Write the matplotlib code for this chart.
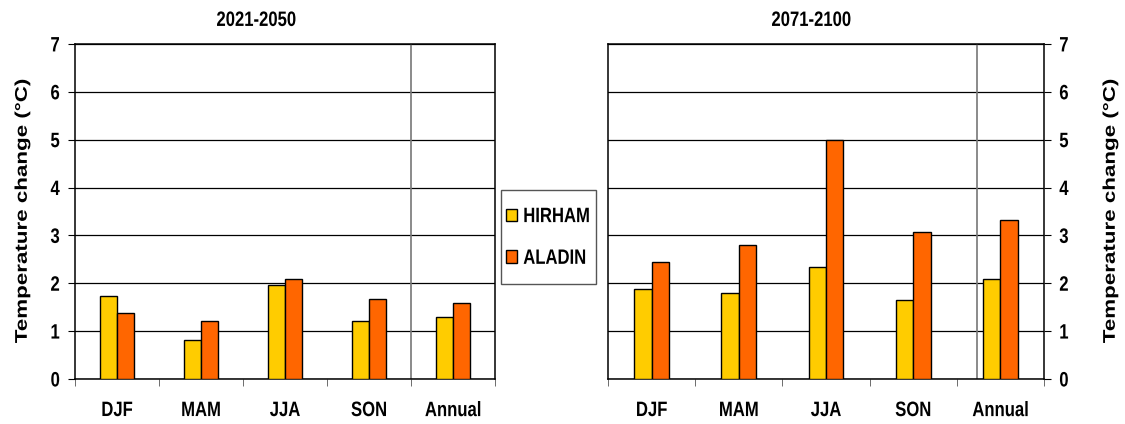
import matplotlib.pyplot as plt
from matplotlib.patches import Patch, Rectangle
from matplotlib.patheffects import AbstractPathEffect
from matplotlib.transforms import Affine2D
import numpy as np

plt.rcParams['font.family'] = ['Liberation Sans', 'DejaVu Sans']
plt.rcParams['font.weight'] = 'bold'

seasons = ["DJF", "MAM", "JJA", "SON", "Annual"]
hirham_2021 = [1.74, 0.81, 1.96, 1.22, 1.30]
aladin_2021 = [1.37, 1.22, 2.10, 1.67, 1.59]
hirham_2071 = [1.88, 1.79, 2.33, 1.65, 2.10]
aladin_2071 = [2.44, 2.79, 5.00, 3.08, 3.33]

yellow = "#FFCC00"
orange = "#FF6600"
fs = 12


# the original picture is stretched vertically, so the text looks tall and narrow
class Stretch(AbstractPathEffect):
    def __init__(self, sx=1.0, sy=1.0):
        super().__init__()
        self.sx, self.sy = sx, sy

    def draw_path(self, renderer, gc, tpath, affine, rgbFace=None):
        ext = tpath.get_extents()
        cx, cy = (ext.x0 + ext.x1) / 2, (ext.y0 + ext.y1) / 2
        tr = Affine2D().translate(-cx, -cy).scale(self.sx, self.sy).translate(cx, cy) + affine
        renderer.draw_path(gc, tpath, tr, rgbFace)


tall = [Stretch(1.0, 1.25)]
long_ = [Stretch(1.32, 1.0)]

fig = plt.figure(figsize=(11.25, 4.24), dpi=100)
ax1 = fig.add_axes([75/1125, 1-379/424, 420/1125, 335/424])
ax2 = fig.add_axes([608/1125, 1-379/424, 436/1125, 335/424])

x = np.arange(len(seasons))
w = 0.2


def draw(ax, h, a, vline):
    ax.bar(x - w/2, h, w, color=yellow, edgecolor="black", linewidth=1, zorder=3)
    ax.bar(x + w/2, a, w, color=orange, edgecolor="black", linewidth=1, zorder=3)
    ax.set_xlim(-0.5, 4.5)
    ax.set_ylim(0, 7)
    ax.set_yticks(range(8))
    ax.yaxis.grid(True, color="black", linewidth=0.9)
    ax.set_axisbelow(True)
    ax.axvline(vline, color="#777777", linewidth=1.2, zorder=2)
    ax.set_xticks(x)
    ax.set_xticklabels(seasons, fontsize=fs, fontweight="bold")
    ax.set_xticks(np.arange(-0.5, 5, 1), minor=True)
    ax.tick_params(axis="x", which="major", length=0, pad=17)
    ax.tick_params(axis="x", which="minor", length=5, color="#555555")
    ax.tick_params(axis="y", length=5, labelsize=fs, pad=6)
    for s in ax.spines.values():
        s.set_linewidth(1.1)


draw(ax1, hirham_2021, aladin_2021, 3.5)
draw(ax2, hirham_2071, aladin_2071, 3.73)

ylab = "Temperature change (°C)"
ax1.set_ylabel(ylab, fontsize=12.2, fontweight="bold")
ax1.yaxis.label.set_verticalalignment("center")
ax1.yaxis.set_label_coords((22-75)/420, 0.5)

ax2.yaxis.tick_right()
ax2.yaxis.set_label_position("right")
ax2.tick_params(axis="y", left=False, right=True, labelsize=fs, pad=6)
ax2.set_ylabel(ylab, fontsize=12.2, fontweight="bold")
ax2.yaxis.label.set_verticalalignment("center")
ax2.yaxis.set_label_coords((1110-608)/436, 0.5)

t1 = fig.text(256/1125, 1-20/424, "2021-2050", ha="center", va="center", fontsize=fs, fontweight="bold")
t2 = fig.text(811/1125, 1-20/424, "2071-2100", ha="center", va="center", fontsize=fs, fontweight="bold")

# legend box
fig.patches.append(Rectangle((501/1125, 1-284/424), 95/1125, 94/424, transform=fig.transFigure,
                             facecolor="white", edgecolor="#555555", linewidth=1.0))
handles = [Patch(facecolor=yellow, edgecolor="black", label="HIRHAM"),
           Patch(facecolor=orange, edgecolor="black", label="ALADIN")]
leg = fig.legend(handles=handles, loc="center", bbox_to_anchor=(548/1125, 1-237/424),
                 frameon=False, handlelength=0.66, handleheight=0.78, handletextpad=0.36,
                 labelspacing=1.6, borderpad=0.2, prop={"weight": "bold", "size": fs})

for ax in (ax1, ax2):
    for lab in ax.get_xticklabels() + ax.get_yticklabels():
        lab.set_fontweight("bold")
        lab.set_path_effects(tall)
    ax.yaxis.label.set_path_effects(long_)
for t in [t1, t2] + leg.get_texts():
    t.set_path_effects(tall)

plt.savefig("out.png", dpi=100)
